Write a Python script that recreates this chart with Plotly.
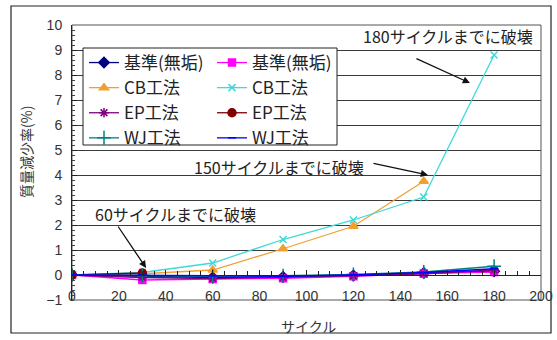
import plotly.graph_objects as go

cycles = [0, 30, 60, 90, 120, 150, 180]
base_a = [0, -0.05, -0.10, -0.08, -0.02, 0.08, 0.15]
base_b = [0, -0.20, -0.16, -0.13, -0.05, 0.06, 0.12]
cb_a = [0, 0.05, 0.20, 1.05, 1.95, 3.75, None]
cb_b = [0, 0.10, 0.48, 1.42, 2.20, 3.12, 8.80]
ep_a = [0, -0.10, -0.14, -0.10, -0.03, 0.05, 0.20]
ep_b = [0, 0.08, None, None, None, None, None]
wj_a = [0, -0.02, -0.05, -0.03, 0.02, 0.12, 0.35]
wj_b = [0, 0.00, -0.03, -0.05, 0.00, 0.10, 0.25]

x_ticks = [0, 20, 40, 60, 80, 100, 120, 140, 160, 180, 200]
y_ticks = [-1, 0, 1, 2, 3, 4, 5, 6, 7, 8, 9, 10]

W, H = 557, 340
L, R, T, B = 72, 541, 25, 300


def px(xp):
    return (xp - L) / (R - L)


def py(yp):
    return (B - yp) / (B - T)


series = [
    ("基準(無垢)", base_a, "#000080", "diamond", 8, "legend"),
    ("基準(無垢)", base_b, "#FF00FF", "square", 7, "legend2"),
    ("CB工法", cb_a, "#F0A030", "triangle-up", 8, "legend"),
    ("CB工法", cb_b, "#40D8D8", "x-thin-open", 7, "legend2"),
    ("EP工法", ep_a, "#800080", "asterisk-open", 8, "legend"),
    ("EP工法", ep_b, "#800000", "circle", 8, "legend2"),
    ("WJ工法", wj_a, "#008080", "cross-thin-open", 10, "legend"),
    ("WJ工法", wj_b, "#0000FF", "line-ew-open", 6, "legend2"),
]

fig = go.Figure()
for name, vals, col, sym, sz, lg in series:
    fig.add_trace(go.Scatter(
        x=cycles, y=vals, name=name, mode="lines+markers",
        line=dict(color=col, width=1.3),
        marker=dict(symbol=sym, size=sz, color=col, line=dict(color=col, width=1.5)),
        legend=lg, connectgaps=False,
    ))

tick_font = dict(family="Liberation Sans, Arial", size=14, color="#333333")
cjk = "Noto Sans CJK JP"

fig.update_layout(
    width=W, height=H,
    margin=dict(l=L, r=W - R, t=T, b=H - B, autoexpand=False),
    paper_bgcolor="white", plot_bgcolor="white",
    font=dict(family=cjk),
    xaxis=dict(
        range=[0, 200], tickvals=x_ticks, anchor="free", position=1 / 11,
        showline=True, linecolor="#222222", linewidth=1,
        ticks="inside", ticklen=5, tickcolor="#222222",
        minor=dict(dtick=5, ticks="inside", ticklen=4, tickcolor="#222222"),
        showgrid=False, zeroline=False, tickfont=tick_font,
        ticklabelstandoff=8, ticklabeloverflow="allow", automargin=False,
    ),
    yaxis=dict(
        range=[-1, 10], tickvals=y_ticks, showline=True, linecolor="#222222",
        ticks="inside", ticklen=5, tickcolor="#222222",
        minor=dict(dtick=0.2, ticks="inside", ticklen=3, tickcolor="#444444"),
        showgrid=True, gridcolor="#3a3a3a", gridwidth=1, zeroline=False,
        tickfont=tick_font, ticklabelstandoff=6, automargin=False,
    ),
    legend=dict(
        x=px(84), y=py(45), xanchor="left", yanchor="top",
        bgcolor="rgba(0,0,0,0)", borderwidth=0,
        font=dict(family=cjk, size=17, color="#222222"),
        itemwidth=30, tracegroupgap=0,
    ),
    legend2=dict(
        x=px(212), y=py(45), xanchor="left", yanchor="top",
        bgcolor="rgba(0,0,0,0)", borderwidth=0,
        font=dict(family=cjk, size=17, color="#222222"),
        itemwidth=30, tracegroupgap=0,
    ),
)

shapes = [
    # plot frame
    dict(type="rect", xref="paper", yref="paper", x0=0, x1=1, y0=0, y1=1,
         line=dict(color="#555555", width=1), layer="below"),
    # outer chart frame
    dict(type="rect", xref="paper", yref="paper", x0=px(11), x1=px(551), y0=py(333), y1=py(6),
         line=dict(color="#222222", width=1.2), layer="below"),
    # legend box
    dict(type="rect", xref="paper", yref="paper", x0=px(83), x1=px(337), y0=py(145), y1=py(48),
         line=dict(color="#222222", width=1), fillcolor="white", layer="above"),
]
fig.update_layout(shapes=shapes)

ann_font = dict(family=cjk, size=16, color="#222222")
notes = [
    ("180サイクルまでに破壊", 448, 36),
    ("150サイクルまでに破壊", 279, 167),
    ("60サイクルまでに破壊", 175, 214),
]
for txt, xp, yp in notes:
    fig.add_annotation(text=txt, xref="paper", yref="paper", x=px(xp), y=py(yp),
                       xanchor="center", yanchor="middle", showarrow=False, font=ann_font)

arrows = [
    (169.7, 7.68, -55, -25),
    (151.8, 4.0, -56, -12),
    (31.6, 0.28, -29, -43),
]
for xa, ya, ax, ay in arrows:
    fig.add_annotation(text="", x=xa, y=ya, xref="x", yref="y", ax=ax, ay=ay,
                       showarrow=True, arrowhead=2, arrowsize=1.1, arrowwidth=1.3,
                       arrowcolor="#111111", standoff=0)

fig.add_annotation(text="サイクル", xref="paper", yref="paper", x=px(308), y=py(326),
                   xanchor="center", yanchor="middle", showarrow=False,
                   font=dict(family=cjk, size=14, color="#333333"))
fig.add_annotation(text="質量減少率(%)", xref="paper", yref="paper", x=px(26), y=py(152),
                   xanchor="center", yanchor="middle", showarrow=False, textangle=-90,
                   font=dict(family=cjk, size=14, color="#333333"))

fig.write_html("out.html")
